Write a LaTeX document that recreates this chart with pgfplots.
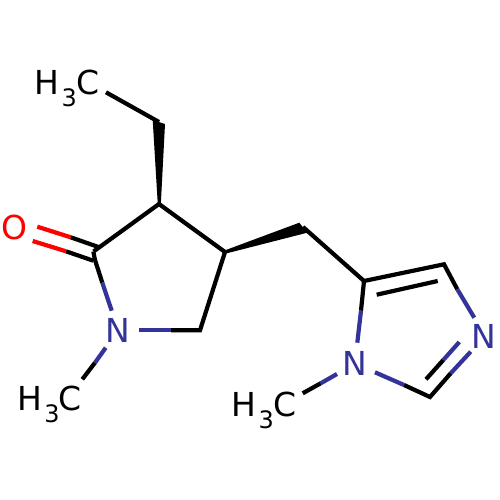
\documentclass[border=0pt]{standalone}
\usepackage{fontspec}
\setmainfont{DejaVu Sans}
\usepackage{pgfplots}
\pgfplotsset{compat=1.18}
\definecolor{nblue}{HTML}{333399}
\newcommand{\methyl}{H\makebox[16.6pt][l]{\hspace{2pt}\raisebox{-12pt}{\fontsize{24}{24}\selectfont 3}}C}
\tikzset{lbl/.style={anchor=base west,inner sep=0pt,outer sep=0pt,font=\fontsize{33}{33}\selectfont}}
\begin{document}
\begin{tikzpicture}[x=1pt,y=1pt]
\useasboundingbox (0,0) rectangle (500,500);
\begin{axis}[
    at={(0,0)},anchor=south west,
    scale only axis,width=500pt,height=500pt,
    xmin=0,xmax=500,ymin=0,ymax=500,
    y dir=reverse,
    hide axis,clip=false,
    every axis plot/.append style={line width=4.2pt,no markers,line join=miter},
]
% wedges
\addplot[fill=black,draw=none] coordinates {(152.7,120) (165,124) (160.8,204.5) (157.8,204.5) (152.7,120)};
\addplot[fill=black,draw=none] coordinates {(299.3,222.7) (307.3,232.7) (226,253.5) (224.5,250.5) (299.3,222.7)};
% black bonds
\addplot[black] coordinates {(106,92.3) (159,122)};
\addplot[black] coordinates {(93.5,251.5) (159,204) (225,252) (200,330.3) (171,330.3)};
\addplot[black] coordinates {(303,227) (364,281) (444,264.3) (457.3,289.3)};
\addplot[black] coordinates {(364,281) (361,310.7)};
\addplot[black] coordinates {(376.7,294.7) (437.7,281)};
\addplot[black] coordinates {(404,385) (430,397) (450.7,373.3)};
\addplot[black] coordinates {(426,379.3) (443.3,360)};
\addplot[black] coordinates {(95,362.7) (82.3,379.3)};
\addplot[black] coordinates {(320.7,383.3) (302.7,393.3)};
\addplot[black] coordinates {(70.7,237.3) (99.3,247.3)};
\addplot[black] coordinates {(66,251.3) (93.3,260.7)};
\addplot[black] coordinates {(93.3,251.5) (95,260) (102.3,282.7)};
% nitrogen ends
\addplot[nblue] coordinates {(102.3,282.7) (111.7,310.7)};
\addplot[nblue] coordinates {(139,330.3) (171,330.3)};
\addplot[nblue] coordinates {(105.7,347.7) (95,362.7)};
\addplot[nblue] coordinates {(361,310.7) (357.3,342.7)};
\addplot[nblue] coordinates {(337,374) (320.7,383.3)};
\addplot[nblue] coordinates {(375,372.3) (404,385)};
\addplot[nblue] coordinates {(457.3,289.3) (474.3,317.7)};
\addplot[nblue] coordinates {(470.7,351.7) (450.7,373.3)};
\addplot[nblue] coordinates {(459.3,342) (443.3,360)};
% oxygen ends
\addplot[red] coordinates {(37.3,226.7) (70.7,237.3)};
\addplot[red] coordinates {(32.7,241) (66,251.3)};
% atom labels
\node[lbl] at (axis cs:34.8,94.3) {\methyl};
\node[lbl] at (axis cs:17.5,410) {\methyl};
\node[lbl] at (axis cs:231.8,416) {\methyl};
\node[lbl,text=red] at (axis cs:1.4,239.5) {O};
\node[lbl,text=nblue] at (axis cs:105.8,342.7) {N};
\node[lbl,text=nblue] at (axis cs:342.8,375) {N};
\node[lbl,text=nblue] at (axis cs:471.8,348.3) {N};
\end{axis}
\end{tikzpicture}
\end{document}
